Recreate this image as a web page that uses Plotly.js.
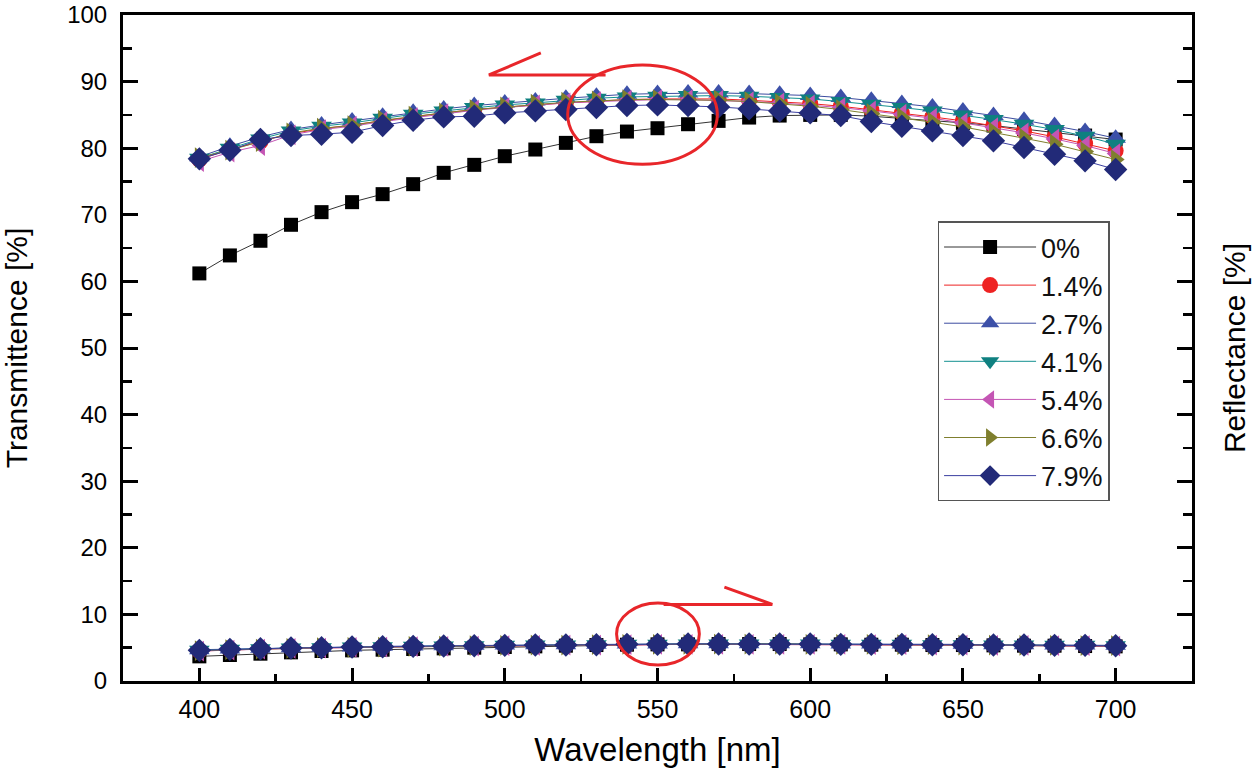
<!DOCTYPE html>
<html>
<head>
<meta charset="utf-8">
<script src="https://cdn.plot.ly/plotly-3.0.1.min.js"></script>
<style>html,body{margin:0;padding:0;background:#fff;}#chart{width:1260px;height:773px;}</style>
</head>
<body>
<div id="chart"></div>
<script>
const wavelength = [400,410,420,430,440,450,460,470,480,490,500,510,520,530,540,550,560,570,580,590,600,610,620,630,640,650,660,670,680,690,700];

const seriesNames = ["0%","1.4%","2.7%","4.1%","5.4%","6.6%","7.9%"];

const trans_0  = [61.2,63.9,66.1,68.5,70.4,71.9,73.1,74.6,76.3,77.5,78.8,79.8,80.8,81.8,82.5,83.0,83.6,84.1,84.6,84.9,85.0,85.0,84.8,84.5,84.2,83.8,83.4,82.9,82.4,81.9,81.3];
const trans_14 = [78.3,79.8,81.0,82.2,82.9,83.5,84.2,84.8,85.3,85.8,86.2,86.5,86.8,87.1,87.3,87.4,87.4,87.4,87.2,87.0,86.7,86.3,85.8,85.3,84.7,84.1,83.4,82.6,81.7,80.7,79.6];
const trans_27 = [78.7,80.3,81.7,82.8,83.5,84.1,84.8,85.4,85.9,86.4,86.8,87.1,87.5,87.8,88.1,88.2,88.3,88.3,88.2,88.1,87.9,87.6,87.2,86.7,86.2,85.6,84.9,84.2,83.4,82.5,81.5];
const trans_41 = [78.5,80.0,81.4,82.6,83.3,83.8,84.5,85.1,85.6,86.1,86.5,86.8,87.2,87.5,87.7,87.8,87.9,87.9,87.8,87.6,87.4,87.0,86.6,86.1,85.6,85.0,84.3,83.6,82.8,81.8,80.6];
const trans_54 = [78.0,79.4,80.4,82.0,82.8,83.3,84.0,84.6,85.2,85.7,86.1,86.5,86.8,87.0,87.2,87.3,87.3,87.2,87.0,86.8,86.5,86.1,85.6,85.1,84.5,83.8,83.1,82.3,81.4,80.4,79.2];
const trans_66 = [78.6,79.7,81.0,82.3,83.0,83.4,84.2,84.8,85.3,85.8,86.2,86.6,86.9,87.1,87.3,87.3,87.3,87.2,87.0,86.7,86.3,85.8,85.2,84.6,83.9,83.2,82.4,81.5,80.6,79.5,78.3];
const trans_79 = [78.4,79.7,81.3,81.9,82.1,82.4,83.4,84.2,84.7,84.8,85.3,85.6,85.8,86.1,86.4,86.5,86.4,86.2,85.9,85.6,85.3,84.9,84.0,83.3,82.6,81.9,81.1,80.1,79.1,78.1,76.8];

const refl_0  = [3.7,3.9,4.1,4.3,4.5,4.6,4.7,4.8,4.9,5.0,5.1,5.2,5.3,5.4,5.45,5.5,5.5,5.55,5.55,5.55,5.5,5.5,5.45,5.45,5.4,5.4,5.35,5.3,5.3,5.25,5.2];
const refl_14 = [4.5,4.7,4.8,4.9,5.0,5.05,5.1,5.15,5.2,5.25,5.3,5.35,5.4,5.45,5.45,5.5,5.5,5.5,5.5,5.5,5.5,5.45,5.45,5.45,5.4,5.4,5.35,5.35,5.3,5.3,5.25];
const refl_27 = [4.7,4.8,4.9,5.0,5.05,5.1,5.2,5.25,5.3,5.35,5.4,5.45,5.45,5.5,5.55,5.55,5.6,5.6,5.6,5.6,5.6,5.55,5.55,5.55,5.5,5.5,5.45,5.45,5.4,5.4,5.35];
const refl_41 = [4.6,4.75,4.85,4.95,5.0,5.1,5.15,5.2,5.25,5.3,5.35,5.4,5.4,5.45,5.5,5.5,5.55,5.55,5.55,5.55,5.55,5.5,5.5,5.5,5.45,5.45,5.4,5.4,5.35,5.35,5.3];
const refl_54 = [4.5,4.65,4.8,4.9,4.95,5.05,5.1,5.15,5.2,5.25,5.3,5.35,5.4,5.4,5.45,5.5,5.5,5.5,5.5,5.5,5.5,5.5,5.45,5.45,5.4,5.4,5.35,5.35,5.3,5.3,5.25];
const refl_66 = [4.55,4.7,4.8,4.9,5.0,5.05,5.1,5.2,5.25,5.3,5.35,5.4,5.4,5.45,5.5,5.5,5.5,5.55,5.55,5.55,5.5,5.5,5.5,5.45,5.45,5.4,5.4,5.35,5.35,5.3,5.3];
const refl_79 = [4.6,4.75,4.85,4.95,5.0,5.1,5.15,5.2,5.25,5.3,5.35,5.4,5.4,5.45,5.5,5.5,5.55,5.55,5.55,5.55,5.55,5.5,5.5,5.5,5.45,5.45,5.4,5.4,5.35,5.35,5.3];

const transData = [trans_0,trans_14,trans_27,trans_41,trans_54,trans_66,trans_79];
const reflData  = [refl_0,refl_14,refl_27,refl_41,refl_54,refl_66,refl_79];

const styles = [
  {symbol:"square", size:14, color:"#000000", line:"#333333"},
  {symbol:"circle", size:16, color:"#ee2222", line:"#ee2222"},
  {symbol:"triangle-up", size:18, color:"#3c50a8", line:"#3c4ca0"},
  {symbol:"triangle-down", size:18, color:"#0f8080", line:"#139090"},
  {symbol:"triangle-left", size:18, color:"#c455b4", line:"#c455b4"},
  {symbol:"triangle-right", size:18, color:"#7f7f2e", line:"#7f7f2e"},
  {symbol:"diamond", size:18, color:"#222a78", line:"#3a3ea0"}
];

const traces = [];
seriesNames.forEach((name,i)=>{
  const s = styles[i];
  traces.push({
    x: wavelength, y: transData[i], name: name, legendgroup: name,
    type:"scatter", mode:"lines+markers", xaxis:"x", yaxis:"y",
    line:{color:s.line, width:1},
    marker:{symbol:s.symbol, size:s.size, color:s.color, line:{width:0}}
  });
});
seriesNames.forEach((name,i)=>{
  const s = styles[i];
  traces.push({
    x: wavelength, y: reflData[i], name: name, legendgroup: name, showlegend:false,
    type:"scatter", mode:"lines+markers", xaxis:"x", yaxis:"y2",
    line:{color:s.line, width:1},
    marker:{symbol:s.symbol, size:s.size, color:s.color, line:{width:0}}
  });
});

const font = "Liberation Sans, Arial, sans-serif";
const red = "#e8262a";

const layout = {
  width:1260, height:773,
  margin:{l:123, r:68, t:15, b:92, pad:0},
  paper_bgcolor:"#ffffff", plot_bgcolor:"#ffffff",
  font:{family:font, color:"#000"},
  showlegend:true,
  legend:{
    x:0.762, y:0.69, xanchor:"left", yanchor:"top",
    bgcolor:"#ffffff", bordercolor:"#555555", borderwidth:1.5,
    font:{size:27, family:font, color:"#111"},
    itemwidth:92, tracegroupgap:0
  },
  xaxis:{
    range:[375,725], tick0:400, dtick:50,
    ticks:"inside", ticklen:13, tickwidth:3, tickcolor:"#000",
    minor:{dtick:25, tick0:400, ticks:"inside", ticklen:7, tickwidth:2.5, tickcolor:"#000"},
    showline:true, linewidth:3, linecolor:"#000", mirror:true,
    showgrid:false, zeroline:false,
    ticklabelstandoff:4,
    tickfont:{size:25, family:font, color:"#000"},
    title:{text:"Wavelength [nm]", font:{size:33, family:font, color:"#000"}, standoff:16}
  },
  yaxis:{
    range:[0,100], tick0:0, dtick:10,
    ticks:"inside", ticklen:15, tickwidth:3, tickcolor:"#000",
    minor:{dtick:5, ticks:"inside", ticklen:9, tickwidth:2.5, tickcolor:"#000"},
    showline:true, linewidth:3, linecolor:"#000",
    showgrid:false, zeroline:false,
    ticklabeloverflow:"allow", ticklabelstandoff:8,
    tickfont:{size:24, family:font, color:"#000"},
    title:{text:"Transmittence [%]", font:{size:30, family:font, color:"#000"}, standoff:37}
  },
  yaxis2:{
    range:[0,100], tick0:0, dtick:10, overlaying:"y", side:"right",
    ticks:"inside", ticklen:15, tickwidth:3, tickcolor:"#000",
    minor:{dtick:5, ticks:"inside", ticklen:9, tickwidth:2.5, tickcolor:"#000"},
    showline:true, linewidth:3, linecolor:"#000",
    showgrid:false, zeroline:false, showticklabels:false,
    title:{text:"Reflectance [%]", font:{size:30, family:font, color:"#000"}, standoff:30}
  },
  shapes:[
    {type:"circle", xref:"x", yref:"y", x0:520.6, x1:569.6, y0:77.6, y1:92.5, line:{color:red, width:3}},
    {type:"path", xref:"x", yref:"y", path:"M 511.8,94.3 L 494.8,91.0 L 533,91.0", line:{color:red, width:3}},
    {type:"circle", xref:"x", yref:"y", x0:536.6, x1:563.7, y0:2.4, y1:11.7, line:{color:red, width:3}},
    {type:"path", xref:"x", yref:"y", path:"M 552,11.5 L 587.6,11.5 L 571.9,14.1", line:{color:red, width:3}}
  ]
};

Plotly.newPlot("chart", traces, layout, {displayModeBar:false, staticPlot:true});
</script>
</body>
</html>
